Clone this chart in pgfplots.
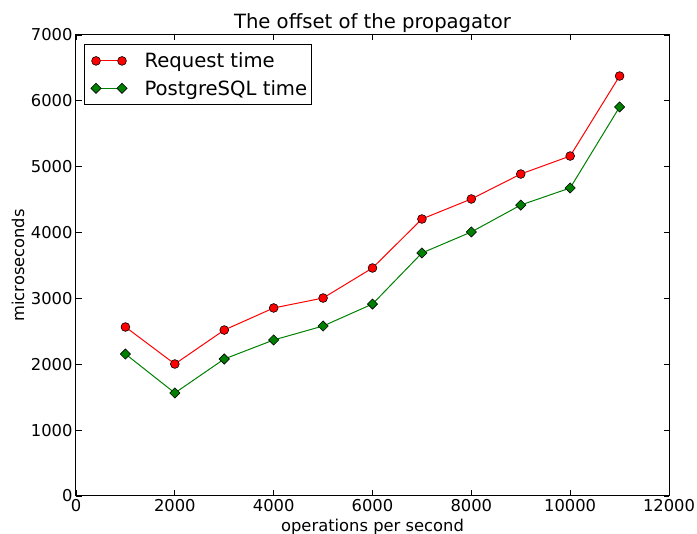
\documentclass[border=0pt]{standalone}
\usepackage{fontspec}
\setmainfont{DejaVu Sans}
\usepackage{pgfplots}
\pgfplotsset{compat=1.18}
\definecolor{mplgreen}{rgb}{0,0.5,0}
\begin{document}
\begin{tikzpicture}
\begin{axis}[
  scale only axis, width=593bp, height=461bp,
  xmin=0, xmax=12000, ymin=0, ymax=7000,
  xtick={0,2000,...,12000}, ytick={0,1000,...,7000},
  scaled ticks=false,
  /pgf/number format/assume math mode=true,
  /pgf/number format/1000 sep={},
  tick label style={font=\fontsize{16.4}{19}\selectfont},
  tick align=inside, tick pos=both, major tick length=5.5bp,
  minor tick num=0,
  every tick/.style={black, line width=0.8bp},
  axis line style={line width=1bp},
  title={The offset of the propagator},
  title style={font=\fontsize{19.7}{23}\selectfont, at={(rel axis cs:0.5,1)}, anchor=center, yshift=6bp},
  xlabel={operations per second}, ylabel={microseconds},
  label style={font=\fontsize{16.4}{19}\selectfont},
  xlabel style={at={(rel axis cs:0.5,0)}, anchor=center, yshift=-31bp},
  ylabel style={at={(rel axis cs:0,0.5)}, anchor=center, yshift=58bp},
  legend style={at={(0.0135,0.980)}, anchor=north west,
    font=\fontsize{19.7}{23}\selectfont, draw=black, line width=1bp,
    cells={anchor=west}, inner xsep=2bp, inner ysep=6bp, row sep=7bp},
  legend image code/.code={\draw[#1] plot coordinates {(0bp,0bp) (26bp,0bp)};
    \path (-9bp,0bp) (46bp,0bp);},
]
\coordinate (sw) at (rel axis cs:0,0);
\coordinate (ne) at (rel axis cs:1,1);
\addplot[red, line width=1bp, mark=*, mark size=4.4bp,
  mark options={fill=red, draw=black, line width=0.6bp}]
  coordinates {(1000,2566) (2000,2004) (3000,2520) (4000,2855) (5000,3006)
  (6000,3462) (7000,4206) (8000,4510) (9000,4889) (10000,5162) (11000,6377)};
\addlegendentry{Request time}
\addplot[mplgreen, line width=1bp, mark=square*, mark size=3.6bp,
  mark options={fill=mplgreen, draw=black, line width=0.6bp, rotate=45}]
  coordinates {(1000,2156) (2000,1564) (3000,2080) (4000,2369) (5000,2581)
  (6000,2915) (7000,3690) (8000,4009) (9000,4418) (10000,4677) (11000,5907)};
\addlegendentry{PostgreSQL time}
\end{axis}
\pgfresetboundingbox
\path ([shift={(-76bp,-38bp)}]sw) rectangle ([shift={(28bp,35bp)}]ne);
\end{tikzpicture}
\end{document}
